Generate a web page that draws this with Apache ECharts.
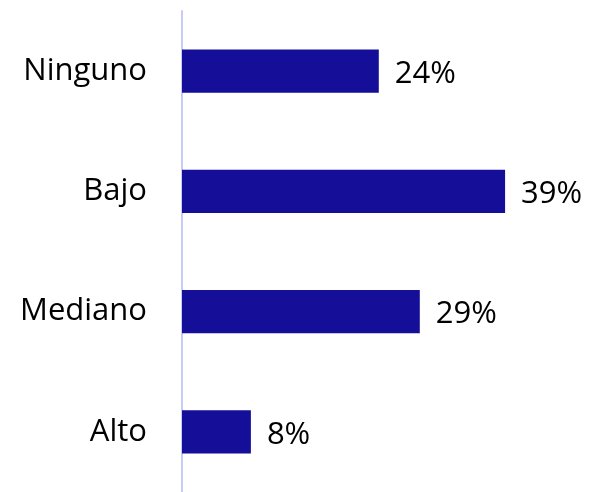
<!DOCTYPE html>
<html>
<head>
<meta charset="utf-8">
<script src="https://cdn.jsdelivr.net/npm/echarts@6/dist/echarts.min.js"></script>
<style>html,body{margin:0;padding:0;background:#fff;}#c{width:592px;height:492px;}</style>
</head>
<body>
<div id="c"></div>
<script>
const categories = ['Ninguno', 'Bajo', 'Mediano', 'Alto'];
const values = [24.0, 39.4, 29.0, 8.4];

const chart = echarts.init(document.getElementById('c'));
chart.setOption({
  animation: false,
  backgroundColor: '#ffffff',
  grid: { left: 182, top: 11, width: 412.5, height: 484, containLabel: false },
  xAxis: {
    type: 'value', min: 0, max: 50,
    show: false
  },
  yAxis: {
    type: 'category',
    data: categories,
    inverse: true,
    axisLine: { show: true, lineStyle: { color: '#c9cbf7', width: 2 } },
    axisTick: { show: false },
    splitLine: { show: false },
    axisLabel: {
      margin: 35,
      fontFamily: 'Open Sans',
      fontSize: 31,
      color: '#000000',
      padding: [5, 0, 0, 0]
    }
  },
  series: [{
    type: 'bar',
    data: values,
    barCategoryGap: '64%',
    itemStyle: { color: '#140e99' },
    label: {
      show: true,
      position: 'right',
      distance: 16,
      offset: [0, 3],
      fontFamily: 'Open Sans',
      fontSize: 31,
      color: '#000000',
      formatter: p => Math.round(p.value) + '%'
    }
  }]
});
</script>
</body>
</html>
